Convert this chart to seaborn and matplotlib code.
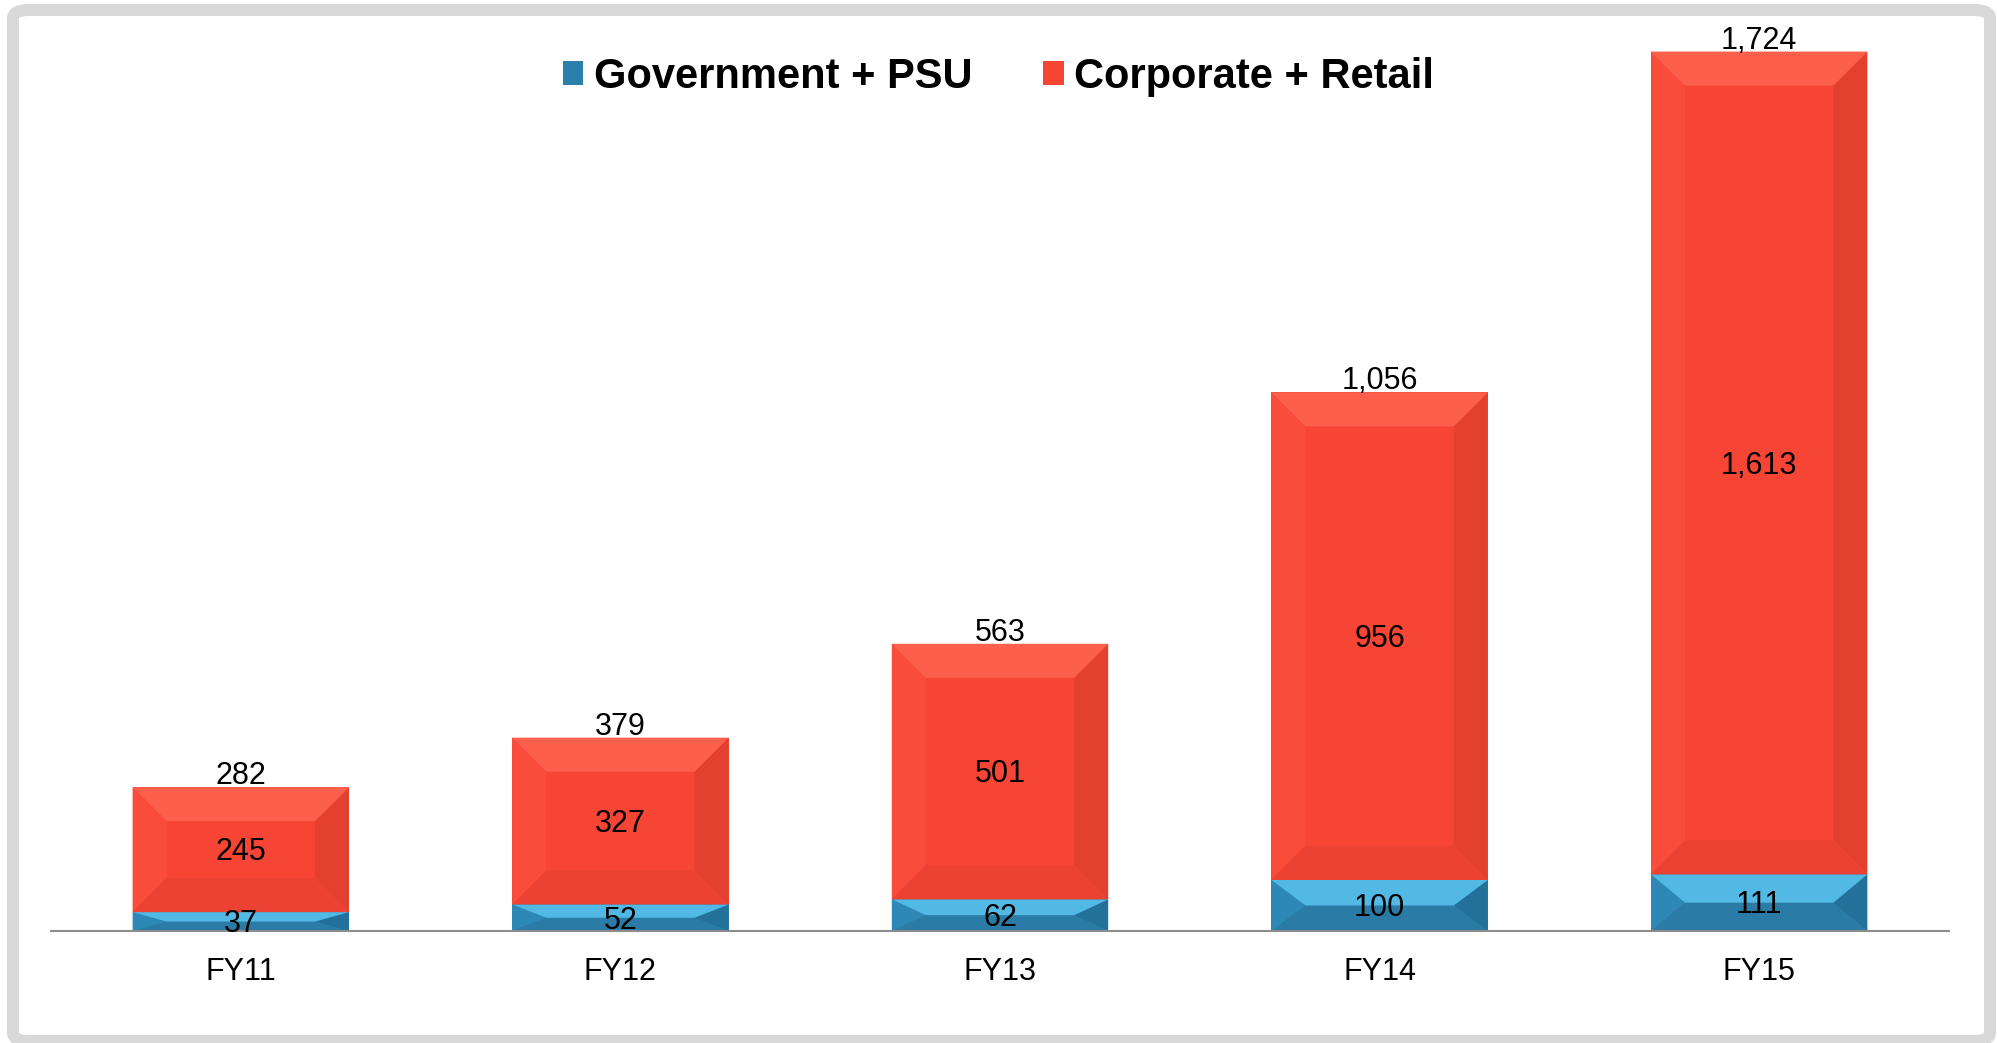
import matplotlib
matplotlib.use("Agg")
import matplotlib.pyplot as plt
import seaborn as sns
import pandas as pd
from matplotlib.patches import Polygon, Rectangle, FancyBboxPatch

# --- DATA ---
years = ["FY11", "FY12", "FY13", "FY14", "FY15"]
gov_psu = [37, 52, 62, 100, 111]
corp_retail = [245, 327, 501, 956, 1613]
totals = [282, 379, 563, 1056, 1724]
total_labels = ["282", "379", "563", "1,056", "1,724"]
corp_labels = ["245", "327", "501", "956", "1,613"]

# --- STYLE ---
BLUE = "#2A80AB"
RED = "#F64535"
BEVEL = {
    BLUE: {"top": "#52B8E4", "left": "#2E88B6", "right": "#23719A", "bottom": "#2A7CA6"},
    RED: {"top": "#FD5F4D", "left": "#F94C3B", "right": "#E3402F", "bottom": "#EC4233"},
}

sns.set_theme(style="white")
plt.rcParams["font.family"] = ["Liberation Sans", "DejaVu Sans"]
plt.rcParams["text.color"] = "black"

df = pd.DataFrame({"year": years, "gov": gov_psu, "corp": corp_retail})

W, H = 1997, 1043
fig = plt.figure(figsize=(W / 100, H / 100), dpi=100)
ax = fig.add_axes([51 / W, 1 - 931 / H, (1949 - 51) / W, (931 - 23) / H])


def add_bevel(ax, patch, color, size_px=34):
    x0, y0 = patch.get_x(), patch.get_y()
    w, h = patch.get_width(), patch.get_height()
    x1, y1 = x0 + w, y0 + h
    inv = ax.transData.inverted()
    p0 = inv.transform((0, 0))
    p1 = inv.transform((size_px, size_px))
    bx = min(p1[0] - p0[0], w / 2)
    by = min(p1[1] - p0[1], h / 2)
    faces = BEVEL[color]
    polys = {
        "top": [(x0, y1), (x1, y1), (x1 - bx, y1 - by), (x0 + bx, y1 - by)],
        "bottom": [(x0, y0), (x1, y0), (x1 - bx, y0 + by), (x0 + bx, y0 + by)],
        "left": [(x0, y0), (x0, y1), (x0 + bx, y1 - by), (x0 + bx, y0 + by)],
        "right": [(x1, y0), (x1, y1), (x1 - bx, y1 - by), (x1 - bx, y0 + by)],
    }
    for name in ["left", "right", "bottom", "top"]:
        ax.add_patch(Polygon(polys[name], closed=True, facecolor=faces[name],
                             edgecolor="none", zorder=3))


sns.barplot(data=df, x="year", y="gov", color=BLUE, saturation=1, width=0.57,
            ax=ax, zorder=2, edgecolor="none", legend=False)
sns.barplot(data=df, x="year", y="corp", bottom=df["gov"].values, color=RED,
            saturation=1, width=0.57, ax=ax, zorder=2, edgecolor="none",
            legend=False)

ax.set_xlim(-0.5, 4.5)
ax.set_ylim(0, 1780)
fig.canvas.draw()

bars = ax.patches[:]
n = len(years)
for p in bars[:n]:
    add_bevel(ax, p, BLUE)
for p in bars[n:2 * n]:
    add_bevel(ax, p, RED)

# data labels
for i in range(n):
    ax.annotate(str(gov_psu[i]), (i, gov_psu[i] / 2), xytext=(0, -2),
                textcoords="offset points", ha="center", va="center",
                fontsize=22, color="black", zorder=5)
    ax.annotate(corp_labels[i], (i, gov_psu[i] + corp_retail[i] / 2),
                xytext=(0, -2), textcoords="offset points", ha="center",
                va="center", fontsize=22, color="black", zorder=5)
    ax.annotate(total_labels[i], (i, totals[i]), xytext=(0, -3),
                textcoords="offset points", ha="center", va="bottom",
                fontsize=22, color="black", zorder=5)

ax.set_xlabel("")
ax.set_ylabel("")
ax.set_yticks([])
ax.tick_params(axis="x", length=0, pad=19, labelsize=22, colors="black")
for s in ["top", "right", "left"]:
    ax.spines[s].set_visible(False)
ax.spines["bottom"].set_color("#8C8C8C")
ax.spines["bottom"].set_linewidth(1.5)
ax.spines["bottom"].set_zorder(4)
ax.patch.set_alpha(0)

# legend
handles = [Rectangle((0, 0), 1, 1, facecolor=BLUE, edgecolor="none"),
           Rectangle((0, 0), 1, 1, facecolor=RED, edgecolor="none")]
fig.legend(handles, ["Government + PSU", "Corporate + Retail"], loc="center",
           bbox_to_anchor=(0.5, 1 - 77 / H), ncol=2, frameon=False,
           prop={"weight": "bold", "size": 30}, handlelength=0.5,
           handleheight=0.5, handletextpad=0.25, columnspacing=1.7,
           labelcolor="black")

# outer frame
frame = FancyBboxPatch((13 / W, 1 - 1041 / H), (1990 - 13) / W, (1041 - 10) / H,
                       boxstyle="round,pad=0,rounding_size=0.008",
                       transform=fig.transFigure, facecolor="none",
                       edgecolor="#D9D9D9", linewidth=12 * 0.72, zorder=0)
fig.patches.append(frame)

fig.savefig("out.png", dpi=100, facecolor="white")
